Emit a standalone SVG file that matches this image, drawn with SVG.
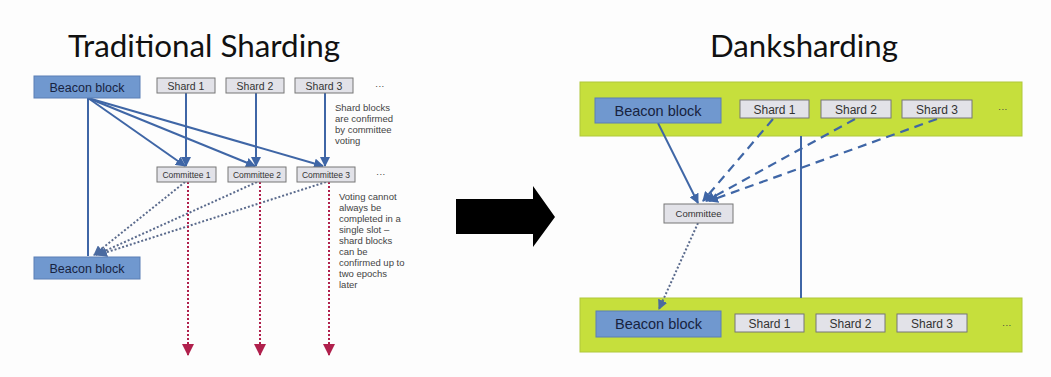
<svg xmlns="http://www.w3.org/2000/svg" width="1051" height="377" viewBox="0 0 1051 377">
<style>
.title{font-family:Lato,"Open Sans",sans-serif;font-size:31px;fill:#111}
.beacon{fill:#7098cf;stroke:#5a7fb5;stroke-width:1}
.shard{fill:#e2e2e8;stroke:#777;stroke-width:1}
.band{fill:#c6df3c;stroke:#b0c83a;stroke-width:1}
.bt{font-family:"Liberation Sans",Arial,sans-serif;fill:#17233f;text-anchor:middle}
.st{font-family:"Liberation Sans",Arial,sans-serif;fill:#333;text-anchor:middle}
.note{font-family:"Liberation Sans",Arial,sans-serif;font-size:9.5px;fill:#444}
.solid{stroke:#3f66a6;stroke-width:2;fill:none}
.dash{stroke:#3f66a6;stroke-width:2.2;fill:none;stroke-dasharray:9,6}
.dot{stroke:#5a6a8c;stroke-width:2;fill:none;stroke-dasharray:2,2}
.red{stroke:#b0204c;stroke-width:2;fill:none;stroke-dasharray:2,2}
</style>
<defs>
<marker id="ab" markerWidth="10" markerHeight="10" refX="9" refY="5" orient="auto" markerUnits="userSpaceOnUse"><path d="M0,0 L10,5 L0,10 Z" fill="#3f66a6"/></marker>
<marker id="ad" markerWidth="10" markerHeight="10" refX="9" refY="5" orient="auto" markerUnits="userSpaceOnUse"><path d="M0,0 L10,5 L0,10 Z" fill="#4a6aa0"/></marker>
<marker id="ar" markerWidth="12" markerHeight="12" refX="11" refY="6" orient="auto" markerUnits="userSpaceOnUse"><path d="M0,0 L12,6 L0,12 Z" fill="#b0204c"/></marker>
</defs>
<rect width="1051" height="377" fill="#fdfdfd"/>
<text class="title" x="68" y="57" textLength="272" lengthAdjust="spacingAndGlyphs">Traditional Sharding</text>
<text class="title" x="710" y="57" textLength="188" lengthAdjust="spacingAndGlyphs">Danksharding</text>

<g id="band-top"><rect class="band" x="580" y="82" width="442" height="54"/></g>
<g id="band-bottom"><rect class="band" x="580" y="298" width="442" height="54"/></g>

<g id="connectors">
<line class="solid" x1="88" y1="98" x2="88" y2="256"/>
<line class="solid" x1="88" y1="98" x2="185" y2="166" marker-end="url(#ab)"/>
<line class="solid" x1="88" y1="98" x2="255" y2="166" marker-end="url(#ab)"/>
<line class="solid" x1="88" y1="98" x2="323" y2="166" marker-end="url(#ab)"/>
<line class="solid" x1="186" y1="93" x2="186" y2="166" marker-end="url(#ab)"/>
<line class="solid" x1="256" y1="93" x2="256" y2="166" marker-end="url(#ab)"/>
<line class="solid" x1="325" y1="93" x2="325" y2="166" marker-end="url(#ab)"/>
<line class="dot" x1="185" y1="182" x2="94" y2="255" marker-end="url(#ad)"/>
<line class="dot" x1="257" y1="182" x2="96" y2="255" marker-end="url(#ad)"/>
<line class="dot" x1="326" y1="182" x2="98" y2="255" marker-end="url(#ad)"/>
<line class="red" x1="188" y1="182" x2="188" y2="355" marker-end="url(#ar)"/>
<line class="red" x1="260" y1="182" x2="260" y2="355" marker-end="url(#ar)"/>
<line class="red" x1="329" y1="182" x2="329" y2="355" marker-end="url(#ar)"/>
<line class="solid" x1="658" y1="123" x2="698" y2="203" marker-end="url(#ab)"/>
<line class="dash" x1="773" y1="119" x2="703" y2="201" marker-end="url(#ab)"/>
<line class="dash" x1="855" y1="119" x2="706" y2="201" marker-end="url(#ab)"/>
<line class="dash" x1="937" y1="119" x2="709" y2="201" marker-end="url(#ab)"/>
<line class="solid" x1="801" y1="136" x2="801" y2="298"/>
<line class="dot" x1="698" y1="223" x2="659" y2="309" marker-end="url(#ad)"/>
</g>

<g id="arrow-big"><path d="M456,199 L533,199 L533,186 L555,217 L533,247 L533,234 L456,234 Z" fill="#000"/></g>

<g id="beacon-top-left"><rect class="beacon" x="34" y="76" width="106" height="22"/><text class="bt" x="87" y="91.5" font-size="12.5">Beacon block</text></g>
<g id="shard1-left"><rect class="shard" x="157" y="78" width="58" height="15"/><text class="st" x="186" y="89.5" font-size="10.5">Shard 1</text></g>
<g id="shard2-left"><rect class="shard" x="226" y="78" width="58" height="15"/><text class="st" x="255" y="89.5" font-size="10.5">Shard 2</text></g>
<g id="shard3-left"><rect class="shard" x="295" y="78" width="58" height="15"/><text class="st" x="324" y="89.5" font-size="10.5">Shard 3</text></g>
<g id="dots-left-1"><text class="note" x="375" y="89">···</text></g>
<g id="note1"><text class="note" x="335" y="111">Shard blocks</text><text class="note" x="335" y="122">are confirmed</text><text class="note" x="335" y="133">by committee</text><text class="note" x="335" y="144">voting</text></g>
<g id="committee1-left"><rect class="shard" x="157" y="167" width="59" height="15"/><text class="st" x="186.5" y="177.5" font-size="8.5">Committee 1</text></g>
<g id="committee2-left"><rect class="shard" x="228" y="167" width="58" height="15"/><text class="st" x="257" y="177.5" font-size="8.5">Committee 2</text></g>
<g id="committee3-left"><rect class="shard" x="297" y="167" width="58" height="15"/><text class="st" x="326" y="177.5" font-size="8.5">Committee 3</text></g>
<g id="dots-left-2"><text class="note" x="376" y="177">···</text></g>
<g id="note2"><text class="note" x="339" y="200">Voting cannot</text><text class="note" x="339" y="211">always be</text><text class="note" x="339" y="222">completed in a</text><text class="note" x="339" y="233">single slot –</text><text class="note" x="339" y="244">shard blocks</text><text class="note" x="339" y="255">can be</text><text class="note" x="339" y="266">confirmed up to</text><text class="note" x="339" y="277">two epochs</text><text class="note" x="339" y="288">later</text></g>
<g id="beacon-bottom-left"><rect class="beacon" x="34" y="257" width="106" height="22"/><text class="bt" x="87" y="272.5" font-size="12.5">Beacon block</text></g>

<g id="beacon-top-right"><rect class="beacon" x="595" y="98" width="126" height="25"/><text class="bt" x="658" y="115.5" font-size="14.5">Beacon block</text></g>
<g id="shard1-right"><rect class="shard" x="740" y="100" width="69" height="18"/><text class="st" x="774.5" y="113.5" font-size="12">Shard 1</text></g>
<g id="shard2-right"><rect class="shard" x="821" y="100" width="70" height="18"/><text class="st" x="856" y="113.5" font-size="12">Shard 2</text></g>
<g id="shard3-right"><rect class="shard" x="902" y="100" width="70" height="18"/><text class="st" x="937" y="113.5" font-size="12">Shard 3</text></g>
<g id="dots-right-1"><text class="note" x="998" y="112">···</text></g>
<g id="committee-right"><rect class="shard" x="664" y="204" width="69" height="19"/><text class="st" x="698.5" y="217" font-size="9.5">Committee</text></g>
<g id="beacon-bottom-right"><rect class="beacon" x="596" y="311" width="125" height="26"/><text class="bt" x="658.5" y="329" font-size="14.5">Beacon block</text></g>
<g id="shard1-bottom"><rect class="shard" x="735" y="314" width="69" height="18"/><text class="st" x="769.5" y="327.5" font-size="12">Shard 1</text></g>
<g id="shard2-bottom"><rect class="shard" x="816" y="314" width="69" height="18"/><text class="st" x="850.5" y="327.5" font-size="12">Shard 2</text></g>
<g id="shard3-bottom"><rect class="shard" x="897" y="314" width="70" height="18"/><text class="st" x="932" y="327.5" font-size="12">Shard 3</text></g>
<g id="dots-right-2"><text class="note" x="1002" y="328">···</text></g>
</svg>
